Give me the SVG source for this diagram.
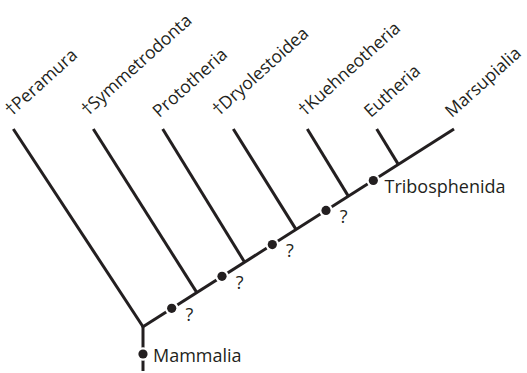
<svg xmlns="http://www.w3.org/2000/svg" width="527" height="373" viewBox="0 0 527 373">
<style>
.br{stroke:#231f20;stroke-width:3;fill:none;stroke-linecap:butt}
.halo{fill:#fff}
.dot{fill:#231f20}
.lbl{font-family:"Open Sans","Noto Sans","Liberation Sans",sans-serif;font-size:17.5px;fill:#231f20}
.nl{font-family:"Open Sans","Noto Sans","Liberation Sans",sans-serif;font-size:18px;fill:#231f20}
</style>
<defs>
<g id="d"><circle class="halo" r="6.8"/><circle class="dot" r="4.6"/></g>
</defs>
<rect width="527" height="373" fill="#fff"/>
<g id="connectors">
<line class="br" x1="143" y1="371" x2="143" y2="326.7"/>
<line class="br" x1="141.8" y1="327.5" x2="454" y2="129"/>
<line class="br" x1="143" y1="326.7" x2="13.3" y2="129"/>
<line class="br" x1="196.7" y1="292.4" x2="93.3" y2="129"/>
<line class="br" x1="244.5" y1="262.0" x2="162.7" y2="129"/>
<line class="br" x1="296" y1="229.4" x2="233.3" y2="129"/>
<line class="br" x1="348.3" y1="196.1" x2="307.3" y2="129"/>
<line class="br" x1="398.3" y1="164.4" x2="376.7" y2="129"/>
</g>
<g id="mammalia">
<use href="#d" x="143" y="354"/>
<text class="nl" x="153" y="361.5">Mammalia</text>
</g>
<g id="node1"><use href="#d" x="171.7" y="308.3"/><text class="nl" x="185.5" y="320.5">?</text></g>
<g id="node2"><use href="#d" x="222" y="276.3"/><text class="nl" x="235.8" y="288.5">?</text></g>
<g id="node3"><use href="#d" x="272.3" y="244.6"/><text class="nl" x="286" y="256.8">?</text></g>
<g id="node4"><use href="#d" x="326" y="210.4"/><text class="nl" x="339.8" y="222.5">?</text></g>
<g id="tribosphenida"><use href="#d" x="373.3" y="180.5"/><text class="nl" x="384.5" y="192.7">Tribosphenida</text></g>
<g id="peramura"><text class="lbl" transform="matrix(0.7431 -0.6691 0.6691 0.7431 11.7 116.7)">†Peramura</text></g>
<g id="symmetrodonta"><text class="lbl" transform="matrix(0.7431 -0.6691 0.6691 0.7431 88 116.5)">†Symmetrodonta</text></g>
<g id="prototheria"><text class="lbl" transform="matrix(0.7431 -0.6691 0.6691 0.7431 159.3 118.3)">Prototheria</text></g>
<g id="dryolestoidea"><text class="lbl" transform="matrix(0.7431 -0.6691 0.6691 0.7431 219 116.5)">†Dryolestoidea</text></g>
<g id="kuehneotheria"><text class="lbl" transform="matrix(0.7431 -0.6691 0.6691 0.7431 305 116.7)">†Kuehneotheria</text></g>
<g id="eutheria"><text class="lbl" transform="matrix(0.7431 -0.6691 0.6691 0.7431 370.7 118.3)">Eutheria</text></g>
<g id="marsupialia"><text class="lbl" transform="matrix(0.7431 -0.6691 0.6691 0.7431 451.7 118.3)">Marsupialia</text></g>
</svg>
